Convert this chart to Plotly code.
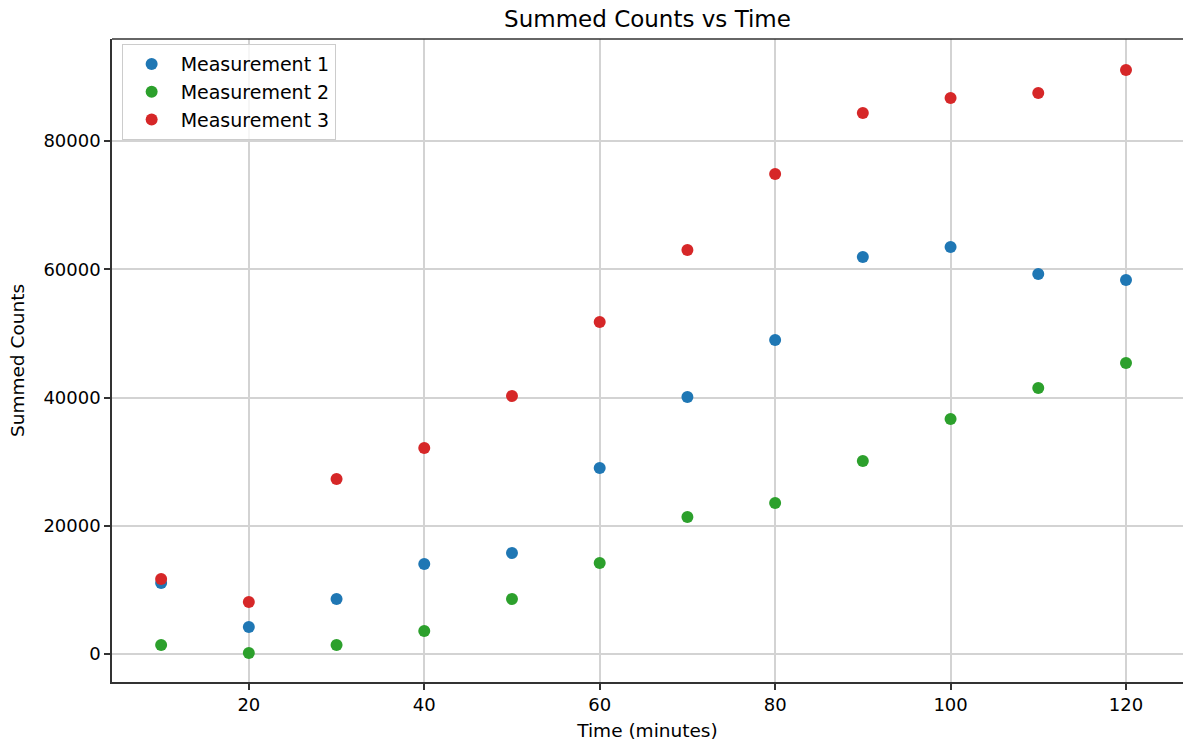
import plotly.graph_objects as go

time_min = [10, 20, 30, 40, 50, 60, 70, 80, 90, 100, 110, 120]
meas1 = [11070, 4210, 8580, 14040, 15750, 29000, 40080, 48970, 61910, 63470, 59260, 58320]
meas2 = [1400, 160, 1400, 3590, 8580, 14190, 21370, 23550, 30100, 36650, 41480, 45380]
meas3 = [11700, 8110, 27290, 32130, 40230, 51770, 63000, 74850, 84370, 86700, 87490, 91070]

names = ["Measurement 1", "Measurement 2", "Measurement 3"]
colors = ["#1f77b4", "#2ca02c", "#d62728"]
series = [meas1, meas2, meas3]

fig = go.Figure()
for n, c, s in zip(names, colors, series):
    fig.add_trace(go.Scatter(
        x=time_min, y=s, mode="markers", name=n,
        marker=dict(color=c, size=12, line=dict(width=0)),
    ))

font = "DejaVu Sans, sans-serif"
fig.update_layout(
    width=1183, height=742,
    margin=dict(l=112, r=0, t=39, b=60),
    paper_bgcolor="white", plot_bgcolor="white",
    font=dict(family=font, size=18, color="#000000"),
    title=dict(text="Summed Counts vs Time", x=0.5, xanchor="center", xref="paper",
               y=0.974, yanchor="middle", font=dict(size=23)),
    showlegend=True,
    legend=dict(x=0.009, y=0.992, xanchor="left", yanchor="top",
                bgcolor="rgba(255,255,255,0.8)", bordercolor="#cccccc", borderwidth=1,
                font=dict(size=19), itemsizing="constant", tracegroupgap=0,
                itemwidth=48),
)
fig.update_xaxes(
    range=[4.4, 126.5], tickvals=[20, 40, 60, 80, 100, 120],
    showgrid=True, gridcolor="#d3d3d3", gridwidth=1.5,
    showline=True, linecolor="#333333", linewidth=1.5, mirror=False,
    ticks="outside", ticklen=6, tickcolor="#333333", tickwidth=1.5,
    zeroline=False,
    title=dict(text="Time (minutes)", font=dict(size=18.5), standoff=10),
)
fig.update_yaxes(
    range=[-4366, 95906], tickvals=[0, 20000, 40000, 60000, 80000],
    tickformat="d",
    showgrid=True, gridcolor="#d3d3d3", gridwidth=1.5,
    showline=True, linecolor="#333333", linewidth=1.5, mirror=False,
    ticks="outside", ticklen=6, tickcolor="#333333", tickwidth=1.5,
    zeroline=False,
    title=dict(text="Summed Counts", font=dict(size=18.5), standoff=14),
)
# top spine
fig.add_shape(type="line", xref="paper", yref="paper", x0=0, x1=1, y0=1, y1=1,
              line=dict(color="#333333", width=1.5))

fig.write_html("out.html")
